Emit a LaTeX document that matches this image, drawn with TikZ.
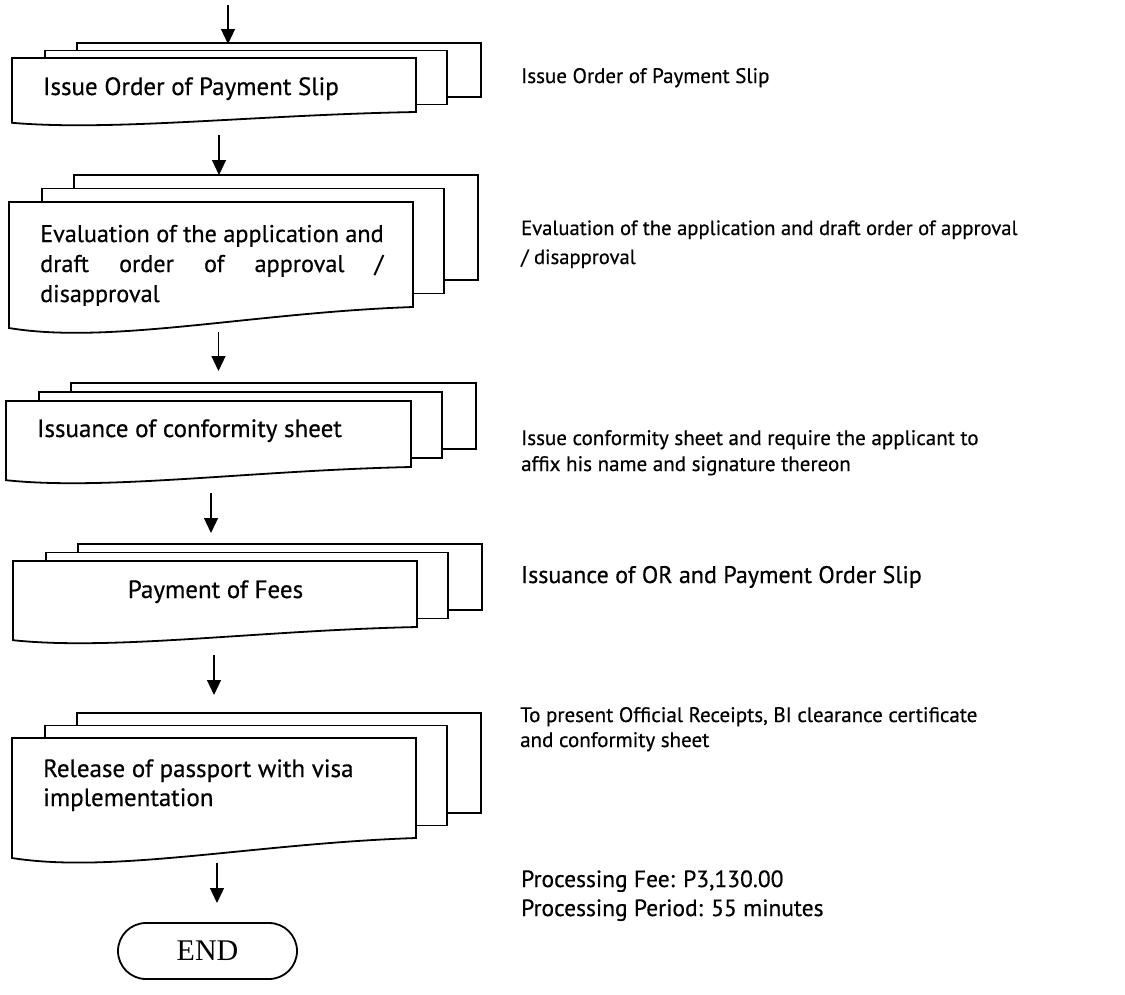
\documentclass[tikz,border=0pt]{standalone}
\usepackage{fontspec}
\newfontfamily\medsans[FakeBold=0.5]{PT Sans}
\newfontfamily\endfont{Liberation Serif}
\usetikzlibrary{arrows.meta}

% three stacked sheets: name, left, top, right, bottom (right edge), vertical step
\newcommand\docstack[6]{%
  \pgfmathsetmacro\wv{0.2*(#5-#3)}%
  \draw[sheet] (#2+65,#3-2*#6) rectangle (#4+65,#5-2*#6);
  \draw[sheet] (#2+33,#3-#6) rectangle (#4+31,#5-#6);
  \draw[sheet] (#2,#3) -- (#4,#3) -- (#4,#5)
    .. controls (#2+0.6*#4-0.6*#2,#5+0.27*\wv) and (#2+0.25*#4-0.25*#2,#5+1.8*\wv) ..
    (#2,#5+\wv) -- cycle;
  \coordinate (#1) at (#2,#3);
}
\newcommand\linepair[3]{\vtop{\baselineskip=#1\hbox{#2}\hbox{#3}}}

\begin{document}
\begin{tikzpicture}[x=1pt,y=-1pt,
  sheet/.style={draw=black,fill=white,line width=1.8pt,line join=miter},
  flow/.style={draw=black,line width=1.2pt,-{Triangle[length=15pt,width=14pt]}},
  boxtext/.style={font=\medsans\fontsize{25}{30}\selectfont,anchor=base west,inner sep=0pt},
  sidetext/.style={font=\medsans\fontsize{21}{29}\selectfont,anchor=base west,inner sep=0pt},
  bigside/.style={font=\medsans\fontsize{23.5}{29}\selectfont,anchor=base west,inner sep=0pt},
  terminal/.style={draw=black,fill=white,line width=1.8pt,rounded corners=28pt,
    minimum width=179pt,minimum height=56pt,inner sep=0pt,
    font=\endfont\fontsize{30}{30}\selectfont}]
\useasboundingbox[fill=white] (0,0) rectangle (1125,994);

% document stacks
\docstack{d1}{12}{58}{416}{112}{7.5}
\docstack{d2}{9}{202}{413}{307}{13.5}
\docstack{d3}{6}{401}{411}{467}{9}
\docstack{d4}{13}{561}{417}{627}{8.5}
\docstack{d5}{12}{738}{416}{838}{12.5}

% texts inside the stacks
\node[boxtext] (t1) at (43,95) {Issue Order of Payment Slip};
\begin{scope}
  \clip (0,200) rectangle (420,305);
  \node[boxtext,font=\medsans\fontsize{24.2}{30}\selectfont] (t2) at (40,242) {\vtop{\baselineskip=30pt
    \hbox{Evaluation of the application and}
    \hbox to 343pt{draft\hfill order\hfill of\hfill approval\hfill /}
    \hbox{disapproval}}};
\end{scope}
\node[boxtext] (t3) at (37,437) {Issuance of conformity sheet};
\node[boxtext,anchor=base] (t4) at (215.5,598) {Payment of Fees};
\node[boxtext] (t5) at (43,777) {\linepair{29pt}{Release of passport with visa}{implementation}};

% end terminal
\node[terminal] (finish) at (207.5,951) {END};

% side notes
\node[sidetext] (n1) at (521,83) {Issue Order of Payment Slip};
\node[sidetext,font=\medsans\fontsize{20.6}{29}\selectfont] (n2) at (521,235) {\linepair{29pt}{Evaluation of the application and draft order of approval}{/ disapproval}};
\node[sidetext] (n3) at (521,445) {\linepair{26pt}{Issue conformity sheet and require the applicant to}{affix his name and signature thereon}};
\node[bigside,font=\medsans\fontsize{24}{29}\selectfont] (n4) at (521,583) {Issuance of OR and Payment Order Slip};
\node[sidetext] (n5) at (520,722) {\linepair{25pt}{To present Official Receipts, BI clearance certificate}{and conformity sheet}};
\node[bigside] (n6) at (521,887) {\linepair{29pt}{Processing Fee: P3,130.00}{Processing Period: 55 minutes}};

% connector ends
\coordinate (start) at (228,5);
\coordinate (d1in) at (228,44);
\coordinate (d1out) at (219,135);
\coordinate (d2in) at (219,175);
\coordinate (d2out) at (218.5,332);
\coordinate (d3in) at (218.5,371);
\coordinate (d3out) at (211,493);
\coordinate (d4in) at (211,533);
\coordinate (d4out) at (214,655);
\coordinate (d5in) at (214,695);
\coordinate (d5out) at (217,863);
\coordinate (finishin) at (217,903);

\draw[flow] (start) -- (d1in);
\draw[flow] (d1out) -- (d2in);
\draw[flow] (d2out) -- (d3in);
\draw[flow] (d3out) -- (d4in);
\draw[flow] (d4out) -- (d5in);
\draw[flow] (d5out) -- (finishin);
\end{tikzpicture}
\end{document}
